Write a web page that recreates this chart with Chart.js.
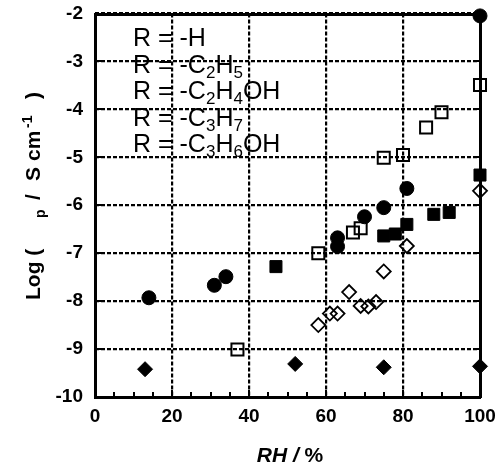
<!DOCTYPE html>
<html>
<head>
<meta charset="utf-8">
<script src="https://cdn.jsdelivr.net/npm/chart.js@4.4.1/dist/chart.umd.min.js"></script>
</head>
<body style="margin:0">
<canvas id="rh-chart" width="502" height="468"></canvas>
<script>
// axis ticks
const xTickValues = [0, 20, 40, 60, 80, 100];
const xMinorTicks = [5, 10, 15, 25, 30, 35, 45, 50, 55, 65, 70, 75, 85, 90, 95];
const yTickValues = [-10, -9, -8, -7, -6, -5, -4, -3, -2];

// legend labels (segments: [text, 'n' normal | 's' subscript])
const legendRows = [
    [['R = -H', 'n']],
    [['R = -C', 'n'], ['2', 's'], ['H', 'n'], ['5', 's']],
    [['R = -C', 'n'], ['2', 's'], ['H', 'n'], ['4', 's'], ['OH', 'n']],
    [['R = -C', 'n'], ['3', 's'], ['H', 'n'], ['7', 's']],
    [['R = -C', 'n'], ['3', 's'], ['H', 'n'], ['6', 's'], ['OH', 'n']]
];

// series (RH %, log sigma)
const hRH  = [14, 31, 34, 63, 63, 70, 75, 81, 100];
const hLog = [-7.93, -7.67, -7.49, -6.68, -6.86, -6.24, -6.05, -5.65, -2.05];

const c2h5RH  = [37, 58, 67, 69, 75, 80, 86, 90, 100];
const c2h5Log = [-9.01, -7.0, -6.57, -6.48, -5.01, -4.95, -4.38, -4.06, -3.49];

const c2h4ohRH  = [47, 75, 78, 81, 88, 92, 100];
const c2h4ohLog = [-7.28, -6.64, -6.6, -6.4, -6.19, -6.15, -5.37];

const c3h7RH  = [58, 61, 63, 66, 69, 71, 73, 75, 81, 100];
const c3h7Log = [-8.5, -8.26, -8.26, -7.81, -8.1, -8.11, -8.02, -7.38, -6.85, -5.7];

const c3h6ohRH  = [13, 52, 75, 100];
const c3h6ohLog = [-9.42, -9.31, -9.38, -9.36];

const toPoints = (px, py) => px.map((v, i) => ({ x: v, y: py[i] }));

// khung và vạch chia hướng vào trong
function drawFrame(chart) {
    const ctx = chart.ctx, xs = chart.scales.x, ys = chart.scales.y, a = chart.chartArea;
    ctx.save();
    ctx.fillStyle = '#000';
    const L = Math.round(a.left), R = Math.round(a.right);
    const T = Math.round(a.top), B = Math.round(a.bottom);
    ctx.fillRect(L - 1, T - 1, R - L + 2, 3);
    ctx.fillRect(L - 1, B - 1, R - L + 2, 3);
    ctx.fillRect(L - 1, T - 1, 3, B - T + 2);
    ctx.fillRect(R - 1, T - 1, 3, B - T + 2);

    yTickValues.forEach(v => {
        const py = Math.round(ys.getPixelForValue(v));
        ctx.fillRect(L, py - 1, 7, 2);
        ctx.fillRect(R - 7, py - 1, 7, 2);
    });
    xTickValues.forEach(v => {
        const px = Math.round(xs.getPixelForValue(v));
        ctx.fillRect(px - 1, B - 7, 2, 7);
    });
    xMinorTicks.forEach(v => {
        const px = Math.round(xs.getPixelForValue(v));
        ctx.fillRect(px - 1, B - 5, 2, 5);
    });
    ctx.restore();
}

const framePlugin = {
    id: 'frameDots',
    beforeDatasetsDraw(chart) {
        drawFrame(chart);
        // chú thích
        const ctx = chart.ctx;
        ctx.save();
        ctx.fillStyle = '#000';
        ctx.textBaseline = 'alphabetic';
        ctx.textAlign = 'left';
        legendRows.forEach((row, i) => {
            let cx = 133;
            const base = 46 + i * 26.5;
            row.forEach(([txt, kind]) => {
                ctx.font = kind === 's' ? '17px "Liberation Sans"' : '25px "Liberation Sans"';
                ctx.fillText(txt, cx, kind === 's' ? base + 5 : base);
                cx += ctx.measureText(txt).width;
            });
        });
        ctx.restore();
    },
    afterDraw(chart) {
        const ctx = chart.ctx;
        ctx.save();
        ctx.fillStyle = '#000';
        ctx.textBaseline = 'alphabetic';
        ctx.textAlign = 'left';

        // tiêu đề trục x: RH / %
        const italic = 'italic bold 21px "Liberation Sans"';
        const upright = 'bold 21px "Liberation Sans"';
        ctx.font = italic;
        const w1 = ctx.measureText('RH / ').width;
        ctx.font = upright;
        const w2 = ctx.measureText('%').width;
        const sx = 290 - (w1 + w2) / 2;
        ctx.font = italic;
        ctx.fillText('RH / ', sx, 462);
        ctx.font = upright;
        ctx.fillText('%', sx + w1, 462);

        // tiêu đề trục y: Log (  p / S cm-1 ), σ không hiển thị trong bản gốc
        const segs = [
            ['Log (', 0, 'n'], ['p', 82, 's'], ['/', 100, 'n'], ['S', 119, 'n'],
            ['cm', 139, 'n'], ['-1', 172, 'u'], [')', 201, 'n']
        ];
        ctx.translate(40, 300);
        ctx.rotate(-Math.PI / 2);
        segs.forEach(([t, off, k]) => {
            ctx.font = k === 'n' ? 'bold 21px "Liberation Sans"' : 'bold 14px "Liberation Sans"';
            const dy = k === 's' ? 5 : (k === 'u' ? -8 : 0);
            ctx.fillText(t, off, dy);
        });
        ctx.restore();
    }
};

const tickFont = { family: '"Liberation Sans"', size: 19, weight: 'bold' };
// lưới chấm của chính Chart.js
const dotGrid = { display: true, color: '#000', lineWidth: 2.2, drawTicks: false, tickLength: 0 };

new Chart(document.getElementById('rh-chart'), {
    type: 'scatter',
    data: {
        datasets: [
            { label: 'R = -H', data: toPoints(hRH, hLog), pointStyle: 'circle', pointRadius: 7,
              backgroundColor: '#000', borderColor: '#000', borderWidth: 1 },
            { label: 'R = -C2H5', data: toPoints(c2h5RH, c2h5Log), pointStyle: 'rect', pointRadius: 8.5,
              backgroundColor: 'rgba(0,0,0,0)', borderColor: '#000', borderWidth: 2 },
            { label: 'R = -C2H4OH', data: toPoints(c2h4ohRH, c2h4ohLog), pointStyle: 'rect', pointRadius: 8.5,
              backgroundColor: '#000', borderColor: '#000', borderWidth: 1 },
            { label: 'R = -C3H7', data: toPoints(c3h7RH, c3h7Log), pointStyle: 'rectRot', pointRadius: 7,
              backgroundColor: 'rgba(0,0,0,0)', borderColor: '#000', borderWidth: 1.8 },
            { label: 'R = -C3H6OH', data: toPoints(c3h6ohRH, c3h6ohLog), pointStyle: 'rectRot', pointRadius: 7.5,
              backgroundColor: '#000', borderColor: '#000', borderWidth: 1 }
        ]
    },
    options: {
        responsive: false,
        animation: false,
        layout: { padding: { top: 13.5, right: 22, left: 0, bottom: 0 } },
        datasets: { scatter: { clip: false } },
        plugins: { legend: { display: false }, tooltip: { enabled: false } },
        scales: {
            x: {
                type: 'linear', min: 0, max: 100,
                afterFit: s => { s.height = 71; s.paddingLeft = 0; s.paddingRight = 0; },
                grid: dotGrid,
                border: { display: false, dash: [4, 2] },
                ticks: { stepSize: 20, color: '#000', font: tickFont, padding: 8, maxRotation: 0 }
            },
            y: {
                type: 'linear', min: -10, max: -2,
                afterFit: s => { s.width = 95; s.paddingTop = 0; s.paddingBottom = 0; },
                grid: dotGrid,
                border: { display: false, dash: [4, 2] },
                ticks: { stepSize: 1, color: '#000', font: tickFont, padding: 12 }
            }
        }
    },
    plugins: [framePlugin]
});
</script>
</body>
</html>
